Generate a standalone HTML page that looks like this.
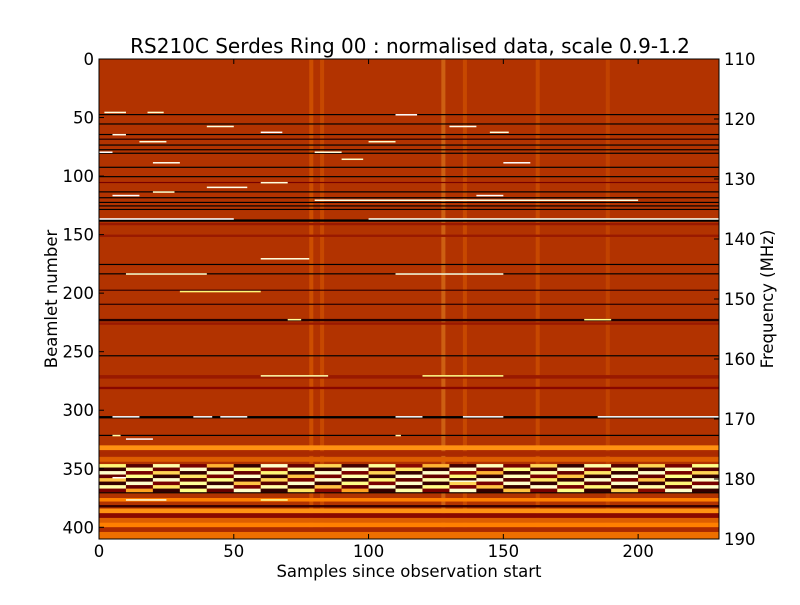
<!DOCTYPE html>
<html><head><meta charset="utf-8"><style>
body{margin:0;background:#fff;}
svg text{font-family:"DejaVu Sans","Liberation Sans",sans-serif;fill:#000;}
</style></head><body>
<svg id="chart" width="800" height="600" xmlns="http://www.w3.org/2000/svg">
<rect width="800" height="600" fill="#fff"/>
<text x="410" y="53" font-size="20" text-anchor="middle">RS210C Serdes Ring 00 : normalised data, scale 0.9-1.2</text>
<g id="heat"></g>
<rect x="99" y="59" width="620" height="480" fill="none" stroke="#000" stroke-width="1"/>
<g id="axes"></g>
<text x="409" y="577" font-size="16.5" text-anchor="middle">Samples since observation start</text>
<text transform="translate(57,299) rotate(-90)" font-size="16.5" text-anchor="middle">Beamlet number</text>
<text transform="translate(773,299) rotate(-90)" font-size="16.5" text-anchor="middle">Frequency (MHz)</text>
</svg>
<script>
const xTicks=[0,50,100,150,200];
const yTicks=[0,50,100,150,200,250,300,350,400];
const freqTicks=[110,120,130,140,150,160,170,180,190];
const baseValue=1.005;
const rowBeamlets=[47,55,64,68,73,77,80,92,100,105,113,118,122,125,128,137,140,150,175,183,197,209,222,225,253,270,280,305,321,330,335,340,347,358,370,375,381,384,388,392,396,400,404];
const rowHeights=[1,1,1,1,1,1,1,1,1,1,1,1,1,1,1,2,2,2,1,1,1,1,2,2,1,3,2,2,1,4,4,4,2,2,1,3,2,4,4,4,4,4,6];
const rowValues=[0.9,0.9,0.9,0.92,0.9,0.9,0.9,0.9,0.9,0.97,0.9,0.9,0.9,0.9,0.9,0.9,0.99,0.99,0.9,0.9,0.93,0.92,0.92,0.99,0.9,0.99,0.98,0.9,0.9,1.06,1.0,1.03,0.9,0.93,0.9,1.05,0.93,1.06,0.98,1.03,1.05,1.0,1.04];
const segBeamlet=[45,45,47,57,57,62,62,64,70,70,79,79,85,88,88,105,109,113,116,116,120,136,136,170,183,183,198,222,222,270,270,305,305,305,305,305,305,321,321,324,357,360,376,376];
const segStart=[2,18,110,40,130,60,145,5,15,100,0,80,90,20,150,60,40,20,5,140,80,0,100,60,10,110,30,70,180,60,120,5,35,45,110,135,185,5,110,10,5,130,10,60];
const segEnd=[10,24,118,50,140,68,152,10,25,110,5,90,98,30,160,70,55,28,15,150,200,50,230,78,40,150,60,75,190,85,150,15,42,55,120,150,230,8,112,20,10,140,25,70];
const segValue=[1.18,1.17,1.2,1.18,1.19,1.2,1.18,1.19,1.18,1.17,1.2,1.18,1.17,1.19,1.2,1.18,1.19,1.17,1.2,1.2,1.18,1.2,1.19,1.18,1.17,1.18,1.12,1.14,1.13,1.15,1.13,1.2,1.2,1.2,1.2,1.2,1.2,1.15,1.16,1.2,1.2,1.18,1.18,1.14];
const bandStart=346;
const bandRowHeight=3;
const bandValues=[
[1.12,0.95,1.15,0.97,1.08,0.93,1.17,0.96,1.1,0.94,1.14,0.98,1.08,0.94,1.16,0.97,1.1,0.93,1.15,0.95,1.1,0.97,1.13],
[0.93,1.15,0.96,1.17,0.94,1.12,0.98,1.15,0.93,1.17,0.95,1.11,0.93,1.17,0.96,1.13,0.94,1.17,0.97,1.14,0.93,1.16,0.95],
[1.17,0.97,1.1,0.93,1.16,0.96,1.12,0.93,1.17,0.97,1.1,0.93,1.17,0.98,1.08,0.93,1.15,0.96,1.11,0.93,1.17,0.97,1.1],
[0.96,1.13,0.93,1.11,0.97,1.17,0.93,1.09,0.97,1.15,0.93,1.17,0.96,1.12,0.93,1.16,0.97,1.09,0.93,1.17,0.96,1.13,0.93],
[1.09,0.93,1.17,0.95,1.13,0.93,1.1,0.97,1.17,0.93,1.12,0.96,1.15,0.93,1.17,0.95,1.11,0.93,1.17,0.97,1.09,0.93,1.17],
[0.93,1.17,0.97,1.14,0.93,1.09,0.95,1.17,0.93,1.13,0.97,1.17,0.93,1.1,0.97,1.17,0.93,1.14,0.95,1.17,0.93,1.12,0.97],
[1.15,0.96,1.11,0.93,1.17,0.97,1.15,0.93,1.09,0.96,1.17,0.93,1.13,0.97,1.09,0.93,1.17,0.97,1.12,0.93,1.15,0.95,1.17],
[0.97,1.07,0.93,1.13,0.96,1.17,0.93,1.11,0.98,1.07,0.93,1.15,0.97,1.17,0.93,1.09,0.97,1.13,0.93,1.1,0.98,1.17,0.93]];
const bandColWidth=10;
const stripeSamples=[78,82,127,135,162,188];
const stripeValues=[1.05,1.04,1.08,1.04,1.04,1.03];

const X0=99,X1=719,Y0=59,Y1=539;
const xs=v=>X0+(v/230)*(X1-X0);
const ys=v=>Y0+(v/410)*(Y1-Y0);
const fs=v=>Y0+((v-110)/80)*(Y1-Y0);
function color(v){let t=(v-0.9)/0.3;t=Math.max(0,Math.min(1,t));
 const c=x=>Math.round(255*Math.max(0,Math.min(1,x)));
 return `rgb(${c(2*t)},${c(2*t-0.5)},${c(2*t-1)})`;}
const NS="http://www.w3.org/2000/svg";
const heat=document.getElementById('heat');
function rect(x,y,w,h,v,name){const r=document.createElementNS(NS,'rect');
 r.setAttribute('x',x);r.setAttribute('y',y);r.setAttribute('width',w);r.setAttribute('height',h);r.setAttribute('fill',color(v));
 
 
 heat.appendChild(r);return r;}
rect(X0,Y0,X1-X0,Y1-Y0,baseValue,'heatmap-base');
stripeSamples.forEach((s,i)=>{const r=rect(xs(s),Y0,xs(1.5)-X0,Y1-Y0,stripeValues[i],'vertical-stripe');r.setAttribute('opacity','0.35');});
rowBeamlets.forEach((b,i)=>rect(X0,ys(b),X1-X0,ys(rowHeights[i])-Y0,rowValues[i],'beamlet-row'));
bandValues.forEach((row,ri)=>row.forEach((v,ci)=>rect(xs(ci*bandColWidth),ys(bandStart+ri*bandRowHeight),xs(Math.min(bandColWidth,230-ci*bandColWidth))-X0,ys(bandRowHeight)-Y0,v,'band-cell')));
segBeamlet.forEach((b,i)=>rect(xs(segStart[i]),ys(b),xs(segEnd[i]-segStart[i])-X0,ys(1.3)-Y0,segValue[i],'bright-segment'));

const axes=document.getElementById('axes');
function line(x1,y1,x2,y2,name){const l=document.createElementNS(NS,'line');
 l.setAttribute('x1',x1);l.setAttribute('y1',y1);l.setAttribute('x2',x2);l.setAttribute('y2',y2);l.setAttribute('stroke','#000');
 
 
 axes.appendChild(l);}
function text(x,y,s,anchor,name){const t=document.createElementNS(NS,'text');
 t.setAttribute('x',x);t.setAttribute('y',y);t.setAttribute('font-size','16.5');t.setAttribute('text-anchor',anchor);t.textContent=s;
 
 
 axes.appendChild(t);}
xTicks.forEach(v=>{const x=xs(v);line(x,Y1,x,Y1-5,'x-tick');line(x,Y0,x,Y0+5,'x-tick-top');text(x,Y1+18,String(v),'middle','x-tick-label');});
yTicks.forEach(v=>{const y=ys(v);line(X0,y,X0+5,y,'y-tick');text(X0-5,y+6,String(v),'end','y-tick-label');});
freqTicks.forEach(v=>{const y=fs(v);line(X1,y,X1-5,y,'y2-tick');text(X1+5,y+6,String(v),'start','y2-tick-label');});
</script>
</body></html>
